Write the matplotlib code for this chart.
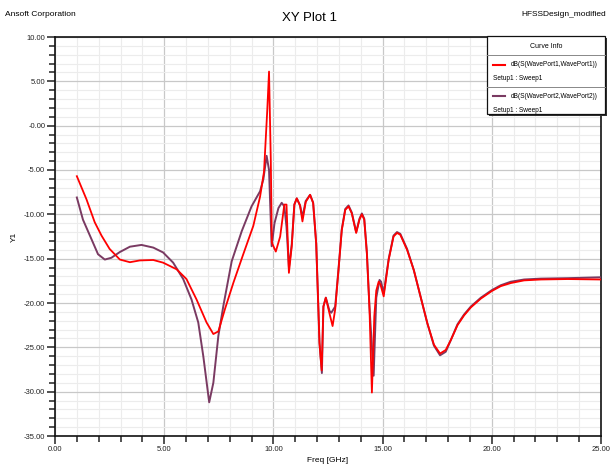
import matplotlib
matplotlib.use('Agg')
import matplotlib.pyplot as plt
from matplotlib.ticker import MultipleLocator, FixedLocator, FixedFormatter
from matplotlib.patches import Rectangle
from matplotlib.lines import Line2D

plt.rcParams['font.family'] = ['Liberation Sans Narrow', 'Liberation Sans', 'DejaVu Sans']

# dB(S(WavePort1,WavePort1))
freq_s11 = [1.0, 1.44, 1.82, 2.13, 2.5, 2.97, 3.43, 3.88, 4.5, 4.95, 5.57, 6.02, 6.48,
            6.94, 7.25, 7.48, 7.78, 8.17, 8.62, 9.08, 9.39, 9.57, 9.72, 9.8, 9.88, 9.93,
            10.11, 10.31, 10.5, 10.6, 10.71, 10.84, 10.96, 11.07, 11.22, 11.33, 11.48,
            11.68, 11.82, 11.96, 12.06, 12.11, 12.21, 12.29, 12.4, 12.57, 12.71, 12.83,
            12.98, 13.13, 13.29, 13.44, 13.59, 13.79, 13.94, 14.05, 14.16, 14.28, 14.4,
            14.51, 14.62, 14.71, 14.82, 14.9, 15.05, 15.28, 15.5, 15.66, 15.81, 16.12,
            16.43, 16.74, 17.05, 17.35, 17.63, 17.89, 18.12, 18.43, 18.73, 19.04, 19.5,
            20.0, 20.41, 20.87, 21.48, 22.25, 23.47, 25.0]
s11 = [-5.7, -8.3, -10.9, -12.4, -13.9, -15.1, -15.4, -15.2, -15.15, -15.45, -16.2, -17.3,
       -19.6, -22.2, -23.5, -23.2, -20.7, -17.7, -14.5, -11.3, -8.0, -5.2, 1.8, 6.1, -3.8,
       -13.2, -14.2, -12.5, -8.9, -8.9, -16.6, -13.6, -8.9, -8.2, -9.0, -10.8, -8.6,
       -7.8, -8.7, -13.3, -20.7, -24.5, -27.6, -20.4, -19.4, -21.2, -22.6, -20.7,
       -16.3, -11.8, -9.5, -9.1, -9.9, -12.1, -10.6, -10.0, -10.6, -14.4, -20.7,
       -30.1, -21.5, -18.6, -17.6, -17.9, -19.25, -15.1, -12.5, -12.1, -12.3, -14.0,
       -16.3, -19.3, -22.3, -24.7, -25.7, -25.3, -24.2, -22.5, -21.4, -20.5, -19.5,
       -18.65, -18.1, -17.75, -17.45, -17.35, -17.3, -17.35]

# dB(S(WavePort2,WavePort2))
freq_s22 = [1.0, 1.28, 1.67, 1.97, 2.28, 2.58, 2.97, 3.43, 3.96, 4.5, 4.95, 5.41, 5.87,
            6.25, 6.56, 6.79, 7.06, 7.25, 7.48, 7.71, 8.09, 8.55, 9.0, 9.39, 9.54, 9.69,
            9.8, 9.92, 10.05, 10.23, 10.38, 10.5, 10.6, 10.71, 10.84, 10.96, 11.07,
            11.22, 11.33, 11.48, 11.68, 11.82, 11.96, 12.06, 12.11, 12.22, 12.29, 12.4,
            12.57, 12.65, 12.83, 12.98, 13.13, 13.29, 13.44, 13.59, 13.79, 13.94, 14.05,
            14.16, 14.28, 14.4, 14.5, 14.59, 14.71, 14.86, 14.93, 15.05, 15.28, 15.5,
            15.66, 15.81, 16.12, 16.43, 16.74, 17.05, 17.35, 17.63, 17.89, 18.12, 18.43,
            18.73, 19.04, 19.5, 20.0, 20.41, 20.87, 21.48, 22.25, 23.47, 25.0]
s22 = [-8.1, -10.6, -12.8, -14.5, -15.1, -14.9, -14.25, -13.65, -13.45, -13.75, -14.3,
       -15.45, -17.3, -19.6, -22.2, -26.0, -31.2, -29.0, -23.7, -20.3, -15.3, -11.9, -9.1,
       -7.4, -6.05, -3.4, -5.0, -13.6, -11.0, -9.3, -8.7, -9.1, -11.4, -16.0, -13.4,
       -8.9, -8.2, -9.0, -10.3, -8.5, -7.8, -8.7, -13.3, -20.7, -24.5, -27.9, -20.4,
       -19.4, -20.9, -21.1, -20.4, -16.2, -11.7, -9.4, -9.0, -9.8, -12.0, -10.5, -9.9,
       -10.5, -14.3, -20.5, -24.5, -28.2, -19.4, -17.4, -17.6, -18.9, -15.0, -12.4,
       -12.0, -12.2, -13.9, -16.3, -19.3, -22.3, -24.8, -25.9, -25.5, -24.2, -22.4,
       -21.3, -20.4, -19.4, -18.55, -18.0, -17.6, -17.35, -17.25, -17.2, -17.1]

y_ticks = [10, 5, 0, -5, -10, -15, -20, -25, -30, -35]
y_labels = ['10.00', '5.00', '-0.00', '-5.00', '-10.00', '-15.00', '-20.00', '-25.00',
            '-30.00', '-35.00']
x_ticks = [0, 5, 10, 15, 20, 25]
x_labels = ['0.00', '5.00', '10.00', '15.00', '20.00', '25.00']

curve_names = ['dB(S(WavePort1,WavePort1))', 'dB(S(WavePort2,WavePort2))']
curve_colors = ['#ff0000', '#7a3a62']

fig = plt.figure(figsize=(6.16, 4.68), dpi=100)
ax = fig.add_axes([55 / 616, 1 - 436 / 468, 546 / 616, 399 / 468])

ax.plot(freq_s22, s22, color=curve_colors[1], lw=1.4, zorder=3)
ax.plot(freq_s11, s11, color=curve_colors[0], lw=1.3, zorder=4)

ax.set_xlim(0, 25)
ax.set_ylim(-35, 10)
ax.xaxis.set_major_locator(FixedLocator(x_ticks))
ax.xaxis.set_major_formatter(FixedFormatter(x_labels))
ax.yaxis.set_major_locator(FixedLocator(y_ticks))
ax.yaxis.set_major_formatter(FixedFormatter(y_labels))
ax.xaxis.set_minor_locator(MultipleLocator(1))
ax.yaxis.set_minor_locator(MultipleLocator(1))

ax.grid(which='major', color='#c8c8c8', lw=0.9, zorder=1)
ax.grid(which='minor', color='#ececec', lw=0.8, zorder=0)
ax.set_axisbelow(True)

ax.tick_params(which='both', direction='out', labelsize=5.5, colors='#222222', pad=1)
ax.tick_params(which='major', length=6, width=1.1)
ax.tick_params(which='minor', length=4, width=1.1)
for sp in ax.spines.values():
    sp.set_linewidth(1.2)
    sp.set_color('#111111')

ax.set_xlabel('Freq [GHz]', fontsize=6, labelpad=3)
ax.set_ylabel('Y1', fontsize=6)
ax.yaxis.set_label_coords(-37 / 546, 0.5)

fig.text(5 / 616, 1 - 15 / 468, 'Ansoft Corporation', fontsize=6, va='center', ha='left')
fig.text(309 / 616, 1 - 18 / 468, 'XY Plot 1', fontsize=9.5, va='center', ha='center')
fig.text(606 / 616, 1 - 15 / 468, 'HFSSDesign_modified', fontsize=6, va='center', ha='right')

# curve info box
W, H = 616, 468
def fx(px):
    return px / W
def fy(py):
    return 1 - py / H

bx0, bx1, by0, by1 = 487, 605, 36, 114
fig.patches.append(Rectangle((fx(bx0 + 2), fy(by1 + 2)), fx(bx1 - bx0), (by1 - by0) / H,
                             transform=fig.transFigure, facecolor='#333333', edgecolor='none',
                             zorder=5))
fig.patches.append(Rectangle((fx(bx0), fy(by1)), fx(bx1 - bx0), (by1 - by0) / H,
                             transform=fig.transFigure, facecolor='white', edgecolor='#111111',
                             lw=0.9, zorder=6))
fig.text(fx(546), fy(46), 'Curve Info', fontsize=5, ha='center', va='center', zorder=7)
for yy in [54.5, 87]:
    fig.add_artist(Line2D([fx(bx0), fx(bx1)], [fy(yy), fy(yy)], color='#888888', lw=0.7,
                          transform=fig.transFigure, zorder=7))
for i, (name, col) in enumerate(zip(curve_names, curve_colors)):
    y_line = 64.5 + i * 32
    fig.add_artist(Line2D([fx(493), fx(505)], [fy(y_line), fy(y_line)], color=col, lw=1.5,
                          transform=fig.transFigure, zorder=7))
    fig.text(fx(511), fy(y_line), name, fontsize=4.7, ha='left', va='center', zorder=7)
    fig.text(fx(493), fy(y_line + 13.5), 'Setup1 : Sweep1', fontsize=4.7, ha='left',
             va='center', zorder=7)

fig.savefig('out.png', dpi=100)
